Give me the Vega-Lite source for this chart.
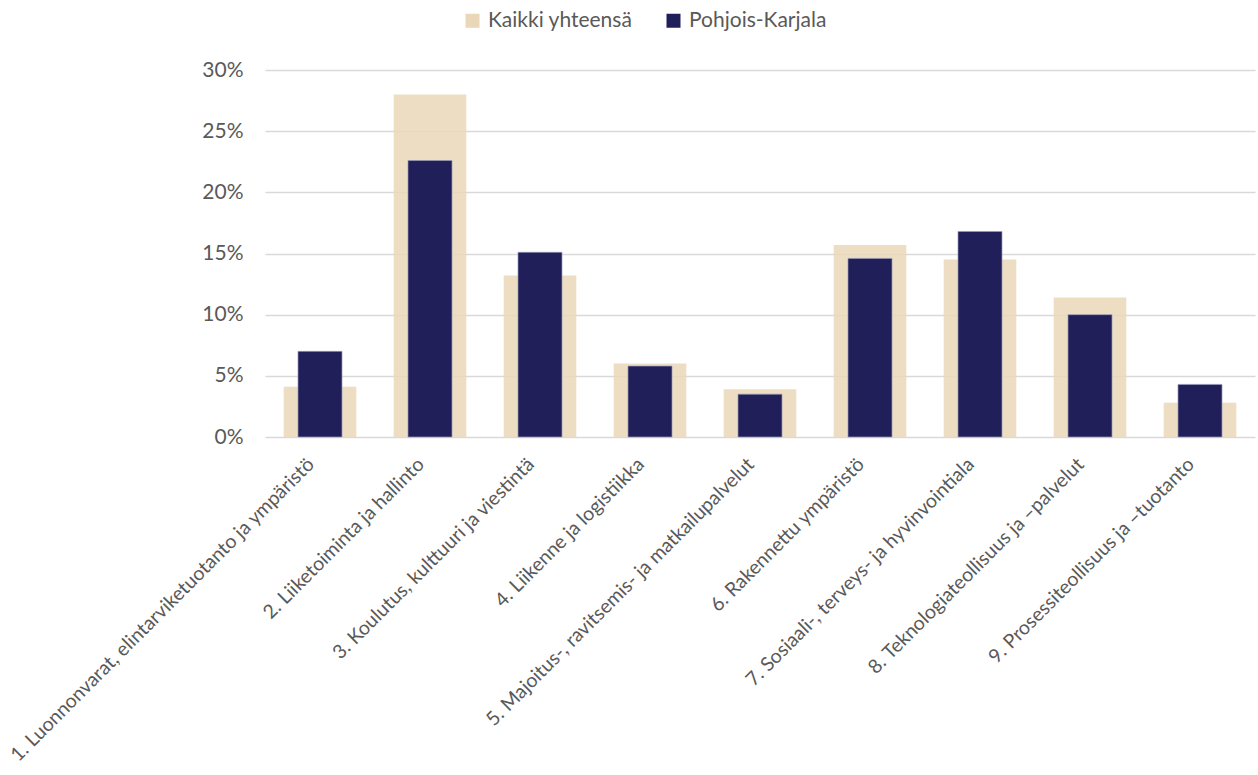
{
  "$schema": "https://vega.github.io/schema/vega-lite/v6.json",
  "width": 990,
  "height": 367,
  "autosize": {"type": "none"},
  "padding": {"left": 265, "top": 70, "right": 3, "bottom": 338},
  "background": "white",
  "config": {
    "view": {"stroke": null},
    "font": "Lato",
    "axis": {"labelFont": "Lato", "labelFontSize": 21, "labelColor": "#595959"},
    "legend": {"labelFont": "Lato", "labelFontSize": 21, "labelColor": "#595959"}
  },
  "data": {
    "values": [
      {"ala": "1. Luonnonvarat, elintarviketuotanto ja ympäristö", "sarja": "Kaikki yhteensä", "osuus": 0.041},
      {"ala": "2. Liiketoiminta ja hallinto", "sarja": "Kaikki yhteensä", "osuus": 0.280},
      {"ala": "3. Koulutus, kulttuuri ja viestintä", "sarja": "Kaikki yhteensä", "osuus": 0.132},
      {"ala": "4. Liikenne ja logistiikka", "sarja": "Kaikki yhteensä", "osuus": 0.060},
      {"ala": "5. Majoitus-, ravitsemis- ja matkailupalvelut", "sarja": "Kaikki yhteensä", "osuus": 0.039},
      {"ala": "6. Rakennettu ympäristö", "sarja": "Kaikki yhteensä", "osuus": 0.157},
      {"ala": "7. Sosiaali-, terveys- ja hyvinvointiala", "sarja": "Kaikki yhteensä", "osuus": 0.145},
      {"ala": "8. Teknologiateollisuus ja –palvelut", "sarja": "Kaikki yhteensä", "osuus": 0.114},
      {"ala": "9. Prosessiteollisuus ja –tuotanto", "sarja": "Kaikki yhteensä", "osuus": 0.028},
      {"ala": "1. Luonnonvarat, elintarviketuotanto ja ympäristö", "sarja": "Pohjois-Karjala", "osuus": 0.070},
      {"ala": "2. Liiketoiminta ja hallinto", "sarja": "Pohjois-Karjala", "osuus": 0.226},
      {"ala": "3. Koulutus, kulttuuri ja viestintä", "sarja": "Pohjois-Karjala", "osuus": 0.151},
      {"ala": "4. Liikenne ja logistiikka", "sarja": "Pohjois-Karjala", "osuus": 0.058},
      {"ala": "5. Majoitus-, ravitsemis- ja matkailupalvelut", "sarja": "Pohjois-Karjala", "osuus": 0.035},
      {"ala": "6. Rakennettu ympäristö", "sarja": "Pohjois-Karjala", "osuus": 0.146},
      {"ala": "7. Sosiaali-, terveys- ja hyvinvointiala", "sarja": "Pohjois-Karjala", "osuus": 0.168},
      {"ala": "8. Teknologiateollisuus ja –palvelut", "sarja": "Pohjois-Karjala", "osuus": 0.100},
      {"ala": "9. Prosessiteollisuus ja –tuotanto", "sarja": "Pohjois-Karjala", "osuus": 0.043}
    ]
  },
  "encoding": {
    "x": {
      "field": "ala", "type": "nominal", "sort": null, "title": null,
      "scale": {"paddingInner": 0, "paddingOuter": 0},
      "axis": {"labelAngle": -45, "labelAlign": "right", "labelBaseline": "middle", "labelFontSize": 19.5, "labelOffset": -9, "domain": false, "ticks": false, "labelPadding": 24, "labelLimit": 600}
    },
    "y": {
      "field": "osuus", "type": "quantitative", "title": null,
      "scale": {"domain": [0, 0.3], "nice": false},
      "axis": {"format": ".0%", "values": [0, 0.05, 0.1, 0.15, 0.2, 0.25, 0.3], "domain": false, "ticks": false, "labelPadding": 22, "gridColor": "#d9d9d9", "gridWidth": 1.5}
    },
    "color": {
      "field": "sarja", "type": "nominal", "title": null,
      "scale": {"domain": ["Kaikki yhteensä", "Pohjois-Karjala"], "range": ["#EAD7B7", "#201F5A"]},
      "legend": {"orient": "none", "direction": "horizontal", "legendX": 197, "legendY": -60, "symbolType": "square", "symbolSize": 196, "symbolOpacity": 1, "symbolStrokeWidth": 0, "labelOffset": 5, "columnPadding": 30}
    }
  },
  "layer": [
    {
      "transform": [{"filter": "datum.sarja === 'Kaikki yhteensä'"}],
      "mark": {"type": "bar", "width": {"band": 0.66}, "opacity": 0.85}
    },
    {
      "transform": [{"filter": "datum.sarja === 'Pohjois-Karjala'"}],
      "mark": {"type": "bar", "width": {"band": 0.4}, "stroke": "#9a99b8", "strokeWidth": 0.7}
    }
  ]
}
